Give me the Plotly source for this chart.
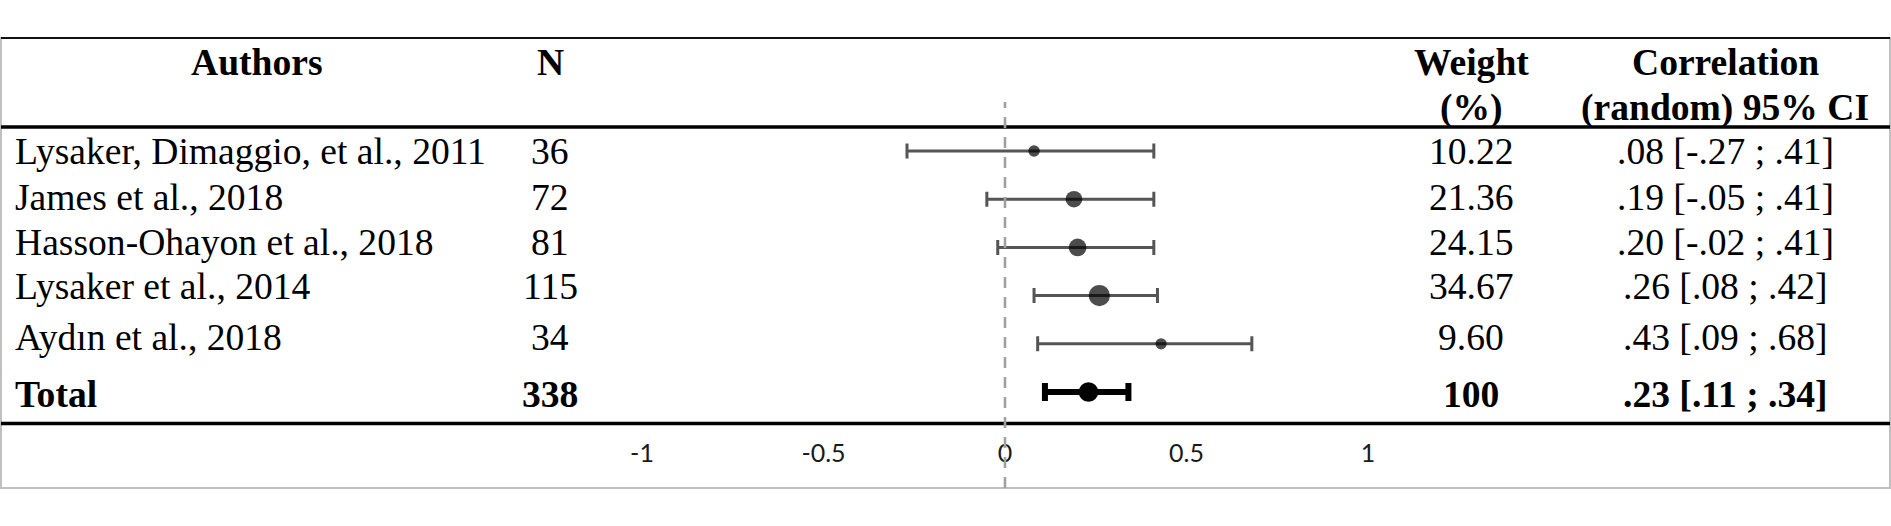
import math
import plotly.graph_objects as go

# ---------------- data ----------------
authors = [
    "Lysaker, Dimaggio, et al., 2011",
    "James et al., 2018",
    "Hasson-Ohayon et al., 2018",
    "Lysaker et al., 2014",
    "Aydın et al., 2018",
]
n_values = [36, 72, 81, 115, 34]
weights = [10.22, 21.36, 24.15, 34.67, 9.60]
r_values = [0.08, 0.19, 0.20, 0.26, 0.43]
ci_lower = [-0.27, -0.05, -0.02, 0.08, 0.09]
ci_upper = [0.41, 0.41, 0.41, 0.42, 0.68]

total_label = "Total"
total_n = 338
total_weight = 100
total_r = 0.23
total_lower = 0.11
total_upper = 0.34

header_authors = "Authors"
header_n = "N"
header_weight = ["Weight", "(%)"]
header_corr = ["Correlation", "(random) 95% CI"]

tick_values = [-1, -0.5, 0, 0.5, 1]
tick_labels = ["-1", "-0.5", "0", "0.5", "1"]

# ---------------- layout constants ----------------
W, H = 1891, 526
X_ZERO_PX, X_UNIT_PX = 1005, 363
ROW0_PX, ROW_STEP_PX = 151, 48.2
SERIF = "Liberation Serif, Times New Roman, serif"
FS = 37.6
MARKER_K = 3.6          # marker diameter per sqrt(weight)
TOTAL_MARKER = 19.5

COL_AUTH_X = 13
COL_AUTH_HDR_X = 257
COL_N_X = 550
COL_W_X = 1471
COL_C_X = 1725
HDR1_Y, HDR2_Y = 62, 108
ROW_TEXT_Y = [151.3, 197.4, 242.4, 286.8, 337, 394.6]


def fx(px):
    return px / W


def fy(py):
    return 1 - py / H


def fmt_r(v):
    s = f"{v:.2f}"
    return s.replace("0.", ".", 1)


fig = go.Figure()

n = len(authors)
rows = list(range(n))
sizes = [MARKER_K * math.sqrt(w) for w in weights]

# error bars (drawn first, so markers sit on top)
fig.add_trace(go.Scatter(
    x=r_values, y=rows, mode="markers",
    marker=dict(size=1, color="rgba(0,0,0,0)"),
    error_x=dict(type="data", symmetric=False,
                 array=[u - r for u, r in zip(ci_upper, r_values)],
                 arrayminus=[r - l for r, l in zip(r_values, ci_lower)],
                 color="#555555", thickness=3, width=7.5),
    showlegend=False, hoverinfo="skip",
))
fig.add_trace(go.Scatter(
    x=[total_r], y=[n], mode="markers",
    marker=dict(size=1, color="rgba(0,0,0,0)"),
    error_x=dict(type="data", symmetric=False,
                 array=[total_upper - total_r],
                 arrayminus=[total_r - total_lower],
                 color="black", thickness=6, width=9),
    showlegend=False, hoverinfo="skip",
))
# point estimates
fig.add_trace(go.Scatter(
    x=r_values, y=rows, mode="markers",
    marker=dict(size=sizes, color="black", line=dict(width=0)),
    showlegend=False, hoverinfo="skip",
))
fig.add_trace(go.Scatter(
    x=[total_r], y=[n], mode="markers",
    marker=dict(size=TOTAL_MARKER, color="black", line=dict(width=0)),
    showlegend=False, hoverinfo="skip",
))

annotations = []


def add_text(text, x, y, bold=False, anchor="center"):
    annotations.append(dict(
        text=f"<b>{text}</b>" if bold else text,
        x=fx(x), y=fy(y), xref="paper", yref="paper",
        xanchor=anchor, yanchor="middle", showarrow=False,
        font=dict(family=SERIF, size=FS, color="black"),
    ))


add_text(header_authors, COL_AUTH_HDR_X, HDR1_Y, bold=True)
add_text(header_n, COL_N_X, HDR1_Y, bold=True)
add_text(header_weight[0], COL_W_X, HDR1_Y, bold=True)
add_text(header_weight[1], COL_W_X, HDR2_Y, bold=True)
add_text(header_corr[0], COL_C_X, HDR1_Y, bold=True)
add_text(header_corr[1], COL_C_X, HDR2_Y, bold=True)

for i in range(n):
    y = ROW_TEXT_Y[i]
    add_text(authors[i], COL_AUTH_X, y, anchor="left")
    add_text(str(n_values[i]), COL_N_X, y)
    add_text(f"{weights[i]:.2f}", COL_W_X, y)
    add_text(f"{fmt_r(r_values[i])} [{fmt_r(ci_lower[i])} ; {fmt_r(ci_upper[i])}]", COL_C_X, y)

yt = ROW_TEXT_Y[n]
add_text(total_label, COL_AUTH_X, yt, bold=True, anchor="left")
add_text(str(total_n), COL_N_X, yt, bold=True)
add_text(str(total_weight), COL_W_X, yt, bold=True)
add_text(f"{fmt_r(total_r)} [{fmt_r(total_lower)} ; {fmt_r(total_upper)}]", COL_C_X, yt, bold=True)

shapes = [
    # grey frame
    dict(type="rect", xref="paper", yref="paper", x0=fx(1), x1=fx(1890), y0=fy(488), y1=fy(38),
         line=dict(color="#c0c0c0", width=2), fillcolor="rgba(0,0,0,0)", layer="below"),
    # table rules
    dict(type="line", xref="paper", yref="paper", x0=fx(1), x1=fx(1890), y0=fy(38), y1=fy(38),
         line=dict(color="#111111", width=2)),
    dict(type="line", xref="paper", yref="paper", x0=fx(1), x1=fx(1890), y0=fy(127), y1=fy(127),
         line=dict(color="black", width=3.5)),
    dict(type="line", xref="paper", yref="paper", x0=fx(1), x1=fx(1890), y0=fy(423.5), y1=fy(423.5),
         line=dict(color="black", width=3.5)),
    # zero reference line
    dict(type="line", xref="x", yref="paper", x0=0, x1=0, y0=fy(488), y1=fy(102),
         line=dict(color="#a0a0a0", width=2.6, dash="11px,9px")),
]

fig.update_layout(
    width=W, height=H,
    margin=dict(l=0, r=0, t=0, b=0),
    paper_bgcolor="white", plot_bgcolor="white",
    xaxis=dict(range=[(0 - X_ZERO_PX) / X_UNIT_PX, (W - X_ZERO_PX) / X_UNIT_PX],
               tickvals=tick_values, ticktext=tick_labels,
               ticklabelposition="inside", ticks="", ticklabelstandoff=56,
               showgrid=False, zeroline=False, showline=False,
               tickfont=dict(family="Lato", size=25, color="#1a1a1a"),
               fixedrange=True),
    yaxis=dict(range=[(H - ROW0_PX) / ROW_STEP_PX, (0 - ROW0_PX) / ROW_STEP_PX],
               visible=False, fixedrange=True),
    annotations=annotations,
    shapes=shapes,
    showlegend=False,
)

fig.write_html("out.html", config={"displayModeBar": False},
               post_script="document.body.style.margin='0';document.body.style.overflow='hidden';")
